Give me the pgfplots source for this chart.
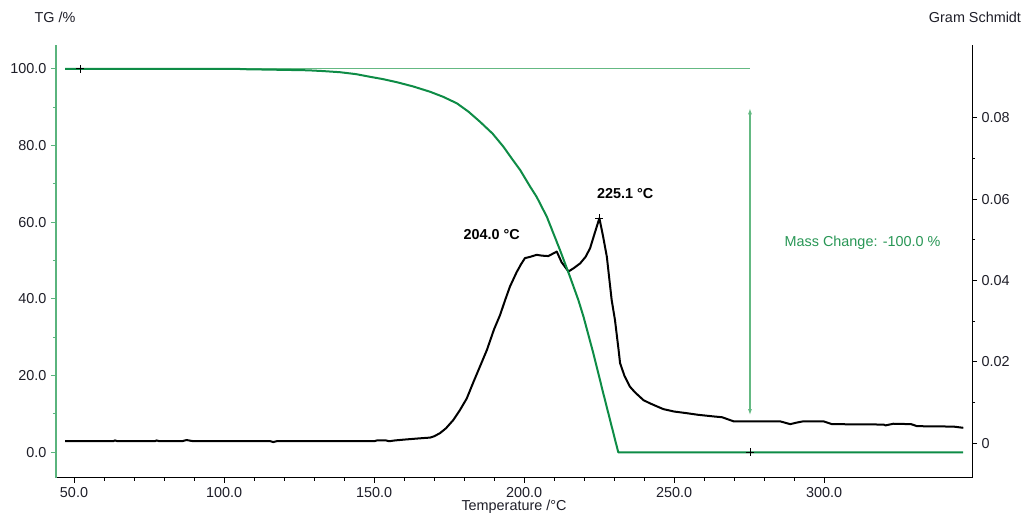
\documentclass[border=0pt]{standalone}
\usepackage{fontspec}
\setmainfont{Liberation Sans}
\usepackage{pgfplots}
\pgfplotsset{compat=1.18}
\usetikzlibrary{arrows.meta}
\definecolor{tggreen}{RGB}{14,140,70}
\definecolor{axgreen}{RGB}{90,180,125}
\definecolor{refgreen}{RGB}{100,185,130}
\definecolor{txtgreen}{RGB}{40,150,85}
\definecolor{lbl}{RGB}{30,30,40}
\newcommand{\fs}{\fontsize{10.8}{13}\selectfont}

\pgfplotstableread{
T TG
47 100
105 100
105.5 99.9
121 99.7
128 99.6
133 99.4
138.7 99.1
144 98.6
148.7 97.9
153 97.3
157.6 96.5
163 95.4
168.7 94.0
173 92.7
177.6 91.0
181.5 88.8
185.3 86.2
189.5 83.1
193.1 79.7
196 76.5
198.7 73.6
202 69.3
204.2 66.6
207.6 61.4
212 52.7
215.3 45.8
218.1 39.7
219.8 35.4
223.1 25.8
226.4 15.4
231.4 0
346.3 0
}\tgdata

\pgfplotstableread{
T GS
47 0.0005
63 0.0005
63.7 0.0007
64.5 0.0005
77 0.0005
77.5 0.0007
78.5 0.0005
86 0.0005
87.5 0.0008
89 0.0006
90 0.0005
115.5 0.0005
116.4 0.0003
117.5 0.0005
150 0.0005
151 0.0007
154 0.0007
155 0.0005
157 0.0007
160 0.0009
165 0.0012
168.7 0.0014
170 0.0017
172 0.0025
174 0.0037
176.4 0.0057
178.5 0.0080
180.9 0.0110
183.1 0.0150
185.5 0.0192
187.6 0.0229
190 0.0280
192 0.0315
193.7 0.0352
195.3 0.0385
197.5 0.0420
199 0.0440
200.3 0.0455
202 0.0458
204.2 0.0463
206 0.0461
208.1 0.0460
210.9 0.0471
212.5 0.0445
214.8 0.0422
216.5 0.0430
218.7 0.0442
220.5 0.0458
222 0.0479
223.5 0.0515
225.1 0.0553
226.3 0.0510
227.6 0.0458
229.2 0.0352
230.3 0.0303
231.5 0.0230
232 0.0197
233.5 0.0165
235.3 0.0139
237 0.0125
239.8 0.0106
242 0.0098
246.4 0.0084
250 0.0078
254.2 0.0074
258 0.0070
263.1 0.0066
266 0.0064
269.8 0.0054
285.3 0.0054
288.7 0.0047
291 0.0051
293.1 0.0054
299.8 0.0054
302.6 0.0047
319.8 0.0046
320.5 0.0044
323.1 0.0048
329 0.0047
331 0.0042
343.1 0.0041
346.4 0.0038
}\gsdata

\begin{document}
\begin{tikzpicture}
\useasboundingbox (0,0) rectangle (769.5pt,390pt);
\pgfplotsset{
  common/.style={scale only axis, width=687pt, height=324.75pt,
    at={(42pt,31.5pt)}, anchor=south west, xmin=44, xmax=349.3,
    tick align=outside, major tick length=3.75pt, minor tick length=2.25pt,
    every tick label/.append style={font=\fs, text=lbl},
    /pgf/number format/assume math mode=true, clip=false},
}
% Gram Schmidt (right axis)
\begin{axis}[common, ymin=-0.00853, ymax=0.09786,
  axis x line=none, axis y line*=right,
  y axis line style={black, line width=0.75pt},
  ytick={0,0.02,0.04,0.06,0.08}, minor y tick num=1,
  scaled y ticks=false,
  y tick style={black, line width=0.6pt},
  yticklabel style={/pgf/number format/.cd, fixed, precision=2, /tikz/.cd}]
\addplot[black, line width=1.5pt, line join=round] table[x=T, y=GS] {\gsdata};
\addplot[only marks, mark=+, mark size=3pt, black, line width=0.5pt] coordinates {(225.1,0.0553)};
\node[font=\fs\bfseries, text=black] at (axis cs:189.2,0.0512) {204.0 °C};
\node[font=\fs\bfseries, text=black] at (axis cs:233.7,0.0613) {225.1 °C};
\end{axis}
% TG (left axis)
\begin{axis}[common, ymin=-6.7, ymax=106.2,
  axis x line*=bottom, axis y line*=left,
  x axis line style={black, line width=0.75pt},
  y axis line style={axgreen, line width=0.9pt},
  xtick={50,100,...,300}, minor x tick num=4,
  ytick={0,20,...,100}, minor y tick num=1,
  x tick style={black, line width=0.6pt},
  y tick style={axgreen, line width=0.7pt},
  xticklabel style={/pgf/number format/.cd, fixed, fixed zerofill, precision=1, /tikz/.cd},
  yticklabel style={/pgf/number format/.cd, fixed, fixed zerofill, precision=1, /tikz/.cd}]
\addplot[refgreen, line width=0.8pt] coordinates {(52,100) (275.3,100)};
\addplot[refgreen, line width=0.8pt, {Latex[length=4.5pt,width=3pt]}-{Latex[length=4.5pt,width=3pt]}] coordinates {(275.3,9.7) (275.3,89.7)};
\addplot[tggreen, line width=1.5pt, line join=round] table[x=T, y=TG] {\tgdata};
\addplot[only marks, mark=+, mark size=3pt, black, line width=0.5pt] coordinates {(52,100) (275.3,0)};
\node[anchor=west, font=\fs, text=txtgreen] at (axis cs:285.3,54.6) {Mass Change: -100.0 \%};
\end{axis}
\node[font=\fs, text=lbl] at (41.25pt,377.25pt) {TG /\%};
\node[font=\fs, text=lbl] at (731.25pt,377.25pt) {Gram Schmidt};
\node[font=\fs, text=lbl] at (385.5pt,9.75pt) {Temperature /°C};
\end{tikzpicture}
\end{document}
